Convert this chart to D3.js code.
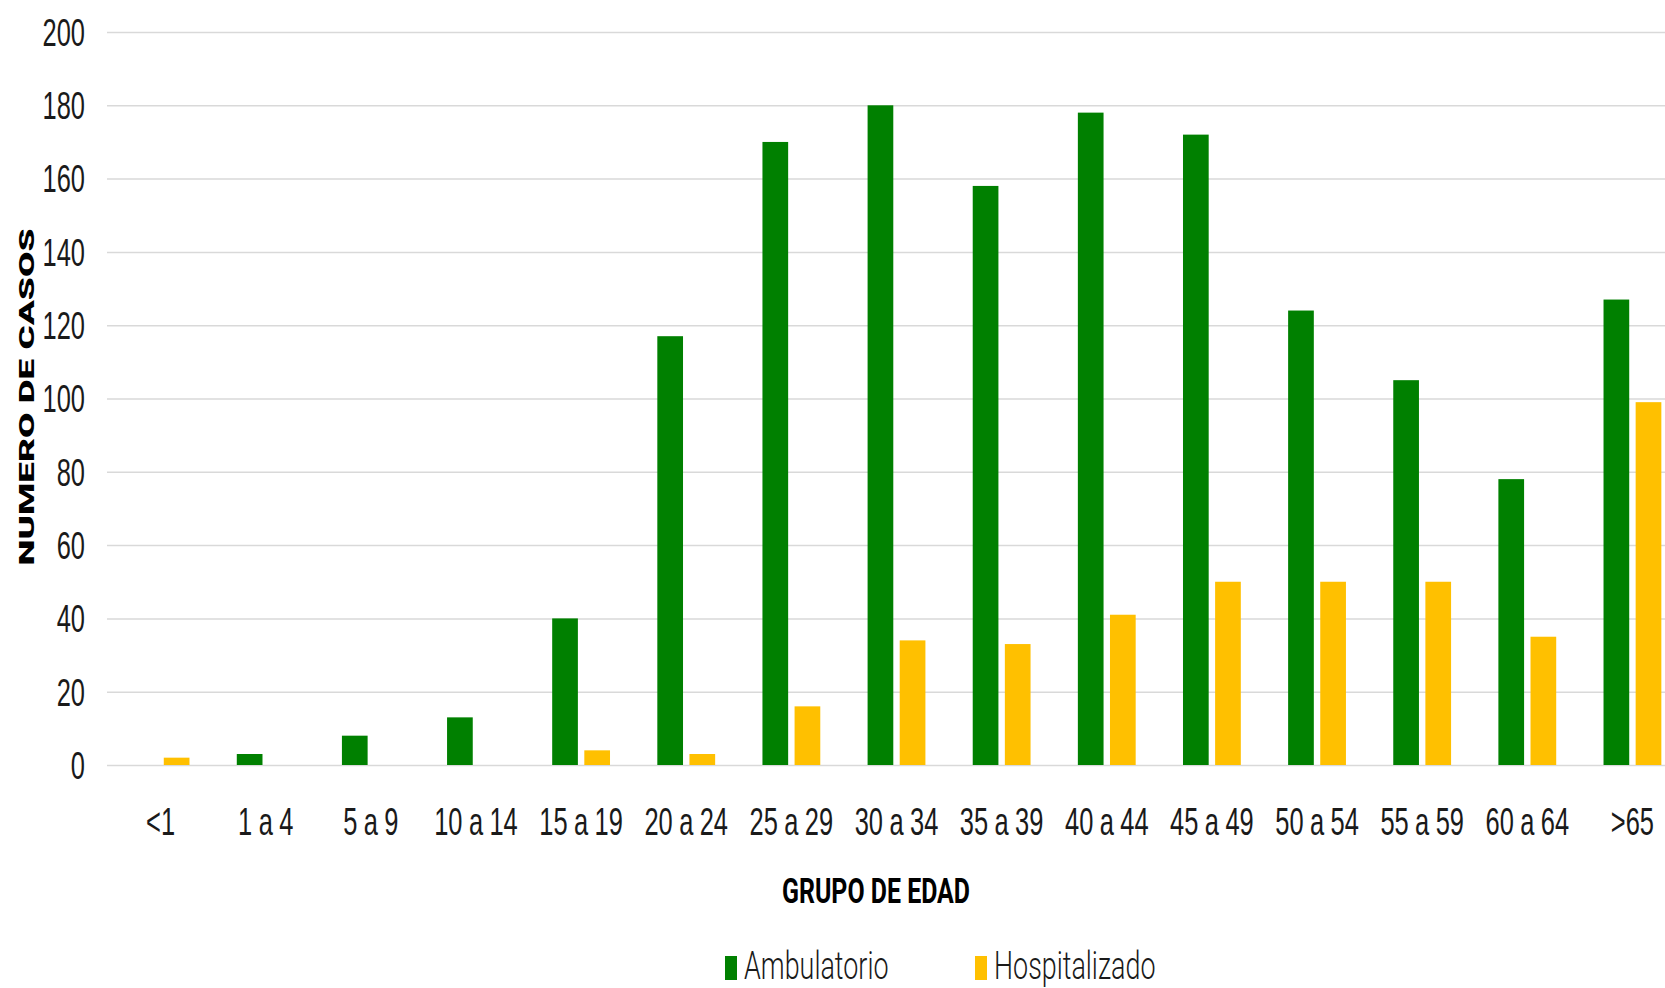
<!DOCTYPE html>
<html>
<head>
<meta charset="utf-8">
<script src="https://cdnjs.cloudflare.com/ajax/libs/d3/7.8.5/d3.min.js"></script>
<style>
  body { margin: 0; background: #fff; }
  svg { display: block; }
</style>
</head>
<body>
<script>
// age groups and case counts
const categories = ["<1", "1 a 4", "5 a 9", "10 a 14", "15 a 19", "20 a 24", "25 a 29",
  "30 a 34", "35 a 39", "40 a 44", "45 a 49", "50 a 54", "55 a 59", "60 a 64", ">65"];
const series = ["Ambulatorio", "Hospitalizado"];
const ambulatorio = [0, 3, 8, 13, 40, 117, 170, 180, 158, 178, 172, 124, 105, 78, 127];
const hospitalizado = [2, 0, 0, 0, 4, 3, 16, 34, 33, 41, 50, 50, 50, 35, 99];
const yTicks = [0, 20, 40, 60, 80, 100, 120, 140, 160, 180, 200];
const colors = ["#008000", "#FFC000"];

const width = 1665;
const height = 988;
const sx = 0.67; // condensed look of the labels

const rows = categories.map((c, i) => ({ cat: c, values: [ambulatorio[i], hospitalizado[i]] }));

const x0 = d3.scaleBand()
  .domain(categories)
  .range([108, 1685])
  .paddingInner(0.45)
  .paddingOuter(0.225);

const x1 = d3.scaleBand()
  .domain(d3.range(series.length))
  .range([0, x0.bandwidth()])
  .paddingInner(0.2);

const y = d3.scaleLinear()
  .domain([0, 200])
  .range([765, 32]);

const svg = d3.select("body").append("svg")
  .attr("width", width)
  .attr("height", height)
  .style("font-family", "Roboto, sans-serif");

// gridlines + y labels
const yAxis = svg.append("g")
  .attr("transform", "translate(107,0)")
  .call(d3.axisLeft(y).tickValues(yTicks).tickSize(-(width - 107)).tickPadding(0));

yAxis.select(".domain").remove();
yAxis.selectAll(".tick line")
  .attr("stroke", "#d9d9d9")
  .attr("stroke-width", 1.5);
yAxis.selectAll(".tick text")
  .attr("x", -22 / sx)
  .attr("dy", "0.35em")
  .attr("transform", `scale(${sx},1)`)
  .style("font-size", "38px")
  .style("font-weight", 300)
  .attr("fill", "#1a1a1a");

// bars
const group = svg.append("g")
  .selectAll("g")
  .data(rows)
  .join("g")
  .attr("transform", d => `translate(${x0(d.cat)},0)`);

group.selectAll("rect")
  .data(d => d.values.map((v, k) => ({ k, v })))
  .join("rect")
  .attr("x", d => x1(d.k))
  .attr("y", d => y(d.v))
  .attr("width", x1.bandwidth())
  .attr("height", d => y(0) - y(d.v))
  .attr("fill", d => colors[d.k]);

// x labels
const xAxis = svg.append("g")
  .attr("transform", `translate(0,${y(0)})`)
  .call(d3.axisBottom(x0).tickSize(0).tickPadding(0));

xAxis.select(".domain").remove();
xAxis.selectAll(".tick text")
  .attr("y", 70)
  .attr("dy", 0)
  .attr("transform", `scale(${sx},1)`)
  .style("font-size", "38px")
  .style("font-weight", 300)
  .style("word-spacing", "-1px")
  .attr("fill", "#1a1a1a");

// axis titles
svg.append("text")
  .attr("x", 876)
  .attr("y", 903)
  .attr("text-anchor", "middle")
  .attr("textLength", 188)
  .attr("lengthAdjust", "spacingAndGlyphs")
  .style("font-size", "35px")
  .style("font-weight", 700)
  .text("GRUPO DE EDAD");

svg.append("text")
  .attr("transform", "translate(34,397) rotate(-90)")
  .attr("text-anchor", "middle")
  .attr("textLength", 337)
  .attr("lengthAdjust", "spacingAndGlyphs")
  .style("font-size", "21px")
  .style("font-weight", 900)
  .text("NUMERO DE CASOS");

// legend
const legendX = [725, 975];
const legend = svg.append("g")
  .selectAll("g")
  .data(series)
  .join("g")
  .attr("transform", (d, i) => `translate(${legendX[i]},0)`);

legend.append("rect")
  .attr("y", 956)
  .attr("width", 12)
  .attr("height", 24)
  .attr("fill", (d, i) => colors[i]);

legend.append("text")
  .attr("transform", `translate(19,979) scale(0.69,1)`)
  .style("font-size", "39px")
  .style("font-weight", 300)
  .attr("fill", "#1a1a1a")
  .text(d => d);
</script>
</body>
</html>
